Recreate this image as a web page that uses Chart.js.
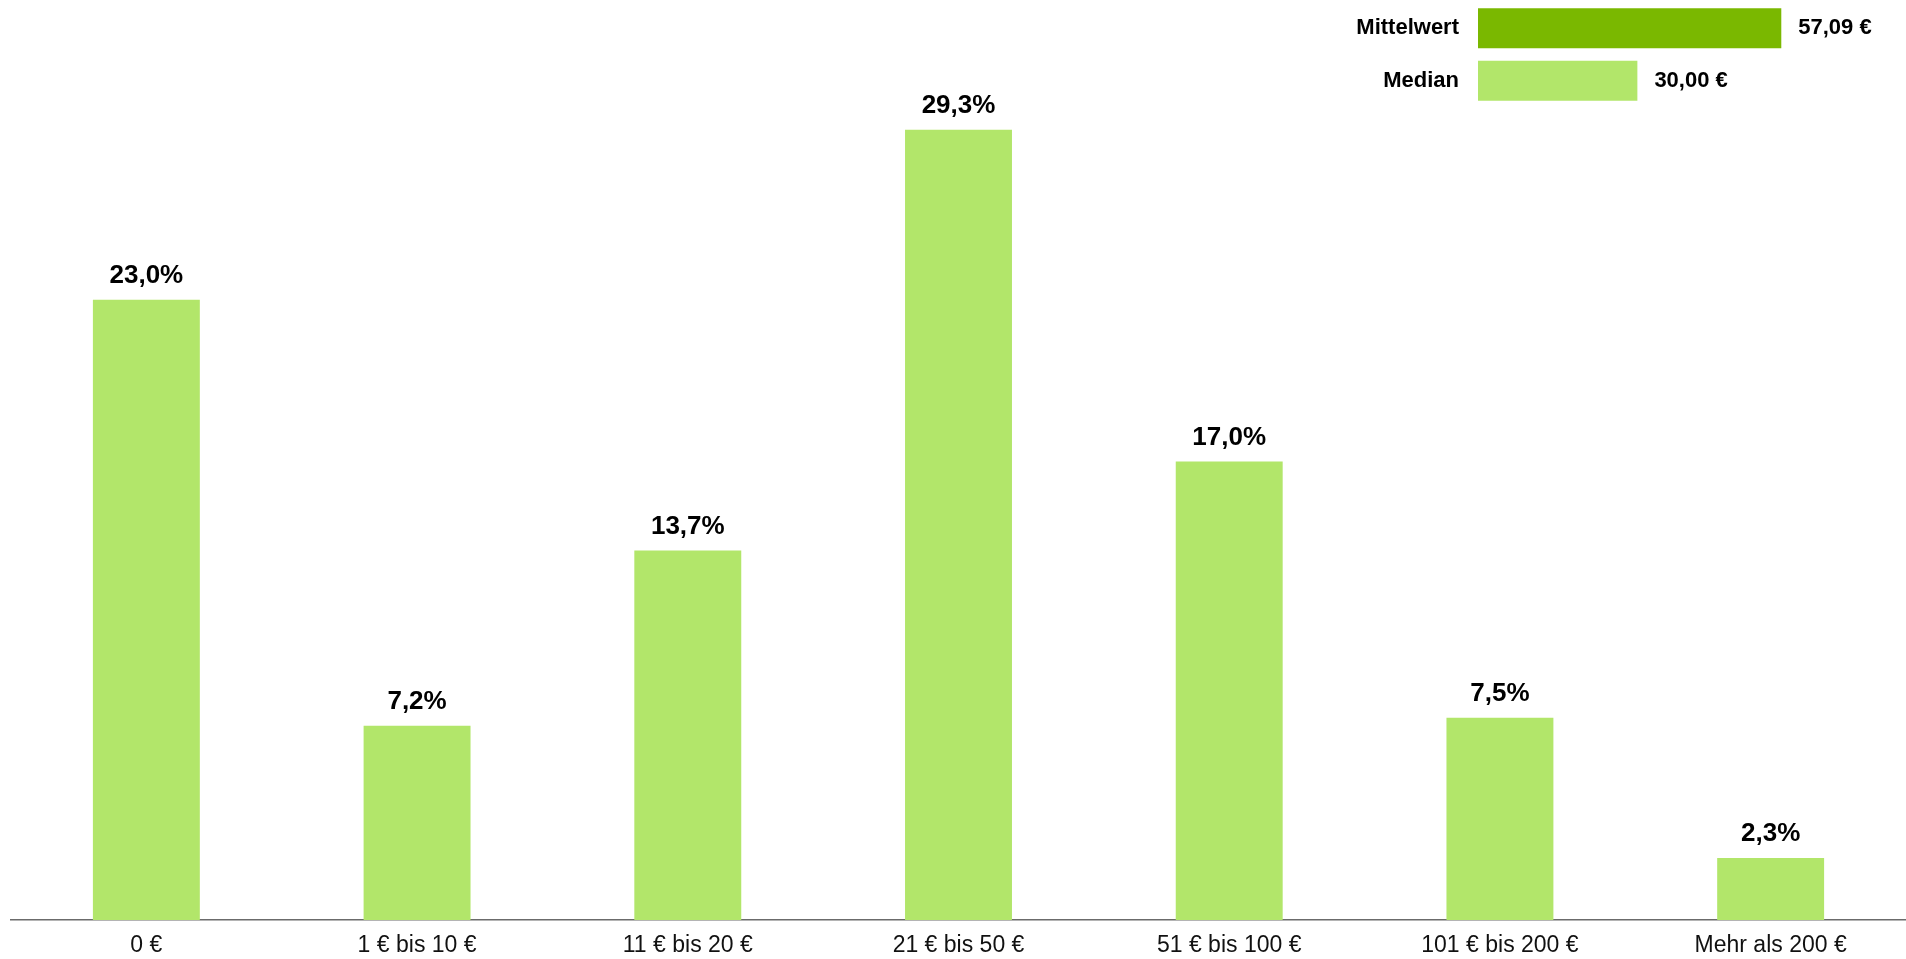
<!DOCTYPE html>
<html lang="de">
<head>
<meta charset="utf-8">
<title>Ausgaben</title>
<script src="https://cdn.jsdelivr.net/npm/chart.js@4.4.1/dist/chart.umd.min.js"></script>
<style>
    html, body { margin: 0; padding: 0; background: #fff; }
    #wrap { position: relative; width: 1906px; height: 959px; overflow: hidden; }
    #mainChart { position: absolute; left: 0; top: 0; }
    #statChart { position: absolute; left: 1300px; top: 2px; }
</style>
</head>
<body>
<div id="wrap">
    <canvas id="mainChart" width="1906" height="959"></canvas>
    <canvas id="statChart" width="606" height="105"></canvas>
</div>
<script>
const categories = ['0 €', '1 € bis 10 €', '11 € bis 20 €', '21 € bis 50 €', '51 € bis 100 €', '101 € bis 200 €', 'Mehr als 200 €'];
const shares = [23.0, 7.2, 13.7, 29.3, 17.0, 7.5, 2.3];

const statLabels = ['Mittelwert', 'Median'];
const statValues = [57.09, 30.00];
const statColors = ['#7ab800', '#b2e66a'];

const FONT = "'Liberation Sans', Arial, sans-serif";

function fmt(v, digits) {
    return v.toFixed(digits).replace('.', ',');
}

// Werte über den Säulen
const topLabels = {
    id: 'topLabels',
    afterDatasetsDraw(chart) {
        const ctx = chart.ctx;
        const meta = chart.getDatasetMeta(0);
        ctx.save();
        ctx.font = 'bold 26px ' + FONT;
        ctx.fillStyle = '#000';
        ctx.textAlign = 'center';
        ctx.textBaseline = 'alphabetic';
        meta.data.forEach((bar, i) => {
            ctx.fillText(fmt(shares[i], 1) + '%', bar.x, bar.y - 17);
        });
        ctx.restore();
    }
};

// Werte rechts neben den Balken
const sideLabels = {
    id: 'sideLabels',
    afterDatasetsDraw(chart) {
        const ctx = chart.ctx;
        const meta = chart.getDatasetMeta(0);
        ctx.save();
        ctx.font = 'bold 22px ' + FONT;
        ctx.fillStyle = '#000';
        ctx.textAlign = 'left';
        ctx.textBaseline = 'middle';
        meta.data.forEach((bar, i) => {
            ctx.fillText(fmt(statValues[i], 2) + ' €', bar.x + 17, bar.y);
        });
        ctx.restore();
    }
};

function createMainChart() {
    const ctx = document.getElementById('mainChart').getContext('2d');
    return new Chart(ctx, {
        type: 'bar',
        data: {
            labels: categories,
            datasets: [{
                data: shares,
                backgroundColor: '#b2e66a',
                borderWidth: 0,
                categoryPercentage: 1,
                barPercentage: 0.395
            }]
        },
        options: {
            responsive: false,
            animation: false,
            layout: { padding: { left: 11, right: 0, top: 3, bottom: 0 } },
            scales: {
                x: {
                    grid: { display: false, drawTicks: false },
                    border: { display: true, color: '#6b6b6b', width: 1.5 },
                    afterFit(scale) { scale.height = 39; },
                    ticks: {
                        color: '#111',
                        padding: 12,
                        font: { family: FONT, size: 23 },
                        maxRotation: 0
                    }
                },
                y: {
                    display: false,
                    min: 0,
                    max: 34
                }
            },
            plugins: {
                legend: { display: false },
                tooltip: { enabled: false }
            }
        },
        plugins: [topLabels]
    });
}

function createStatChart() {
    const ctx = document.getElementById('statChart').getContext('2d');
    return new Chart(ctx, {
        type: 'bar',
        data: {
            labels: statLabels,
            datasets: [{
                data: statValues,
                backgroundColor: statColors,
                borderWidth: 0,
                categoryPercentage: 1,
                barPercentage: 0.76
            }]
        },
        options: {
            indexAxis: 'y',
            responsive: false,
            animation: false,
            layout: { padding: { left: 0, right: 3, top: 0, bottom: 0 } },
            scales: {
                x: { display: false, min: 0, max: 80 },
                y: {
                    grid: { display: false, drawTicks: false },
                    border: { display: false },
                    afterFit(scale) {
                        scale.width = 178;
                        scale.paddingTop = 0;
                        scale.paddingBottom = 0;
                    },
                    ticks: {
                        color: '#000',
                        padding: 19,
                        font: { family: FONT, size: 22, weight: 'bold' }
                    }
                }
            },
            plugins: {
                legend: { display: false },
                tooltip: { enabled: false }
            }
        },
        plugins: [sideLabels]
    });
}

function main() {
    createMainChart();
    createStatChart();
}

document.addEventListener('DOMContentLoaded', main);
</script>
</body>
</html>
